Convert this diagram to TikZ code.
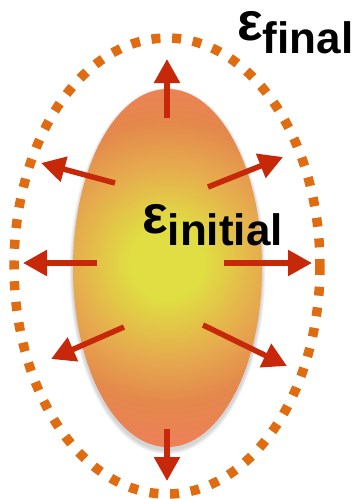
\documentclass[tikz,border=0pt]{standalone}
\usepackage{fontspec}
\setmainfont{Liberation Sans}
\usetikzlibrary{arrows.meta}
\definecolor{flcore}{RGB}{224,222,66}
\definecolor{flmid}{RGB}{230,170,78}
\definecolor{flouter}{RGB}{228,136,76}
\definecolor{fledge}{RGB}{238,128,88}
\definecolor{ringdot}{RGB}{224,108,18}
\definecolor{pushred}{RGB}{200,40,10}
\pgfdeclareradialshading{flame}{\pgfpoint{0bp}{0bp}}{color(0bp)=(flcore); color(5bp)=(flcore); color(13bp)=(flmid); color(19bp)=(flouter); color(25bp)=(fledge); color(50bp)=(fledge)}
\newcommand{\epsbig}{{\fontsize{54}{54}\selectfont\bfseries\smash{ε}}}
\tikzset{
  ring/.style ={draw=ringdot, line width=9.5pt, dash pattern=on 9pt off 11.72pt},
  push/.style ={draw=pushred, line width=5.5pt, -{Triangle[length=24pt,width=25pt]}},
  lab/.style  ={font=\fontsize{44}{44}\selectfont\bfseries, inner sep=0pt, anchor=base west},
}
\begin{document}
\begin{tikzpicture}[x=1pt,y=-1pt]
  \useasboundingbox (0,0) rectangle (362,499);
  \coordinate (core) at (167.5,268);
  \coordinate (glow) at (167,262);
  \coordinate (shell) at (167,266);
  % soft shadow under the core
  \foreach \i in {1,...,5}
    \fill[black,opacity=0.035] ([yshift=-3pt]core) ellipse [x radius=94.5+\i*0.7, y radius=179+\i*0.9];
  \begin{scope}
    \clip (core) ellipse [x radius=94.5, y radius=179];
    \shade[shading=flame] (glow) circle [radius=186];
  \end{scope}
  \draw[ring] (shell) ellipse [x radius=153, y radius=228];
  % arrows pushing outwards
  \coordinate (upT) at (167,118);   \coordinate (upH) at (167,59);
  \coordinate (ulT) at (115,183);   \coordinate (ulH) at (41,163);
  \coordinate (urT) at (208,187);   \coordinate (urH) at (283,157);
  \coordinate (lT) at (97,263);     \coordinate (lH) at (23,263);
  \coordinate (rT) at (224,263);    \coordinate (rH) at (312,263);
  \coordinate (llT) at (124,327);   \coordinate (llH) at (51,359);
  \coordinate (lrT) at (203,325);   \coordinate (lrH) at (287,366);
  \coordinate (dnT) at (167,429);   \coordinate (dnH) at (167,481);
  \draw[push] (upT) -- (upH);
  \draw[push] (ulT) -- (ulH);
  \draw[push] (urT) -- (urH);
  \draw[push] (lT) -- (lH);
  \draw[push] (rT) -- (rH);
  \draw[push] (llT) -- (llH);
  \draw[push] (lrT) -- (lrH);
  \draw[push] (dnT) -- (dnH);
  \node[lab] (efinal) at (237,40) {\epsbig\raisebox{-13pt}{final}};
  \node[lab] (einitial) at (142,233) {\epsbig\raisebox{-12pt}{initial}};
\end{tikzpicture}
\end{document}
